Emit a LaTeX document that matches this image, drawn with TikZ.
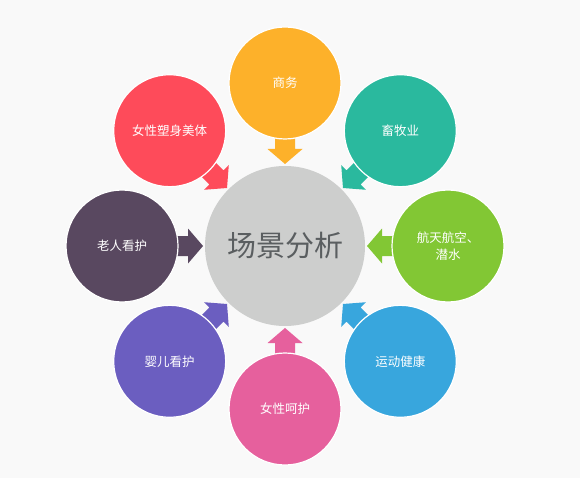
\documentclass[tikz,border=0pt]{standalone}
\usepackage{fontspec}
\newfontfamily\cjk{Noto Sans CJK SC}
\usetikzlibrary{calc}
\definecolor{bgc}{HTML}{F9F9F9}
\definecolor{hubgray}{HTML}{CDCECD}
\definecolor{hubtext}{HTML}{5A5E60}
\definecolor{corange}{HTML}{FDB12A}
\definecolor{cred}{HTML}{FE4B5A}
\definecolor{cteal}{HTML}{2AB99E}
\definecolor{cgreen}{HTML}{82C734}
\definecolor{cblue}{HTML}{38A6DD}
\definecolor{cpink}{HTML}{E6609D}
\definecolor{cpurple}{HTML}{6B5EC0}
\definecolor{cplum}{HTML}{594860}
\pgfdeclarelayer{back}
\pgfdeclarelayer{arrows}
\pgfsetlayers{back,arrows,main}
\tikzset{
  hub/.style={circle, fill=hubgray, minimum size=160pt, inner sep=0pt,
    text=hubtext, font=\cjk\fontsize{29}{32}\selectfont},
  topic/.style={circle, fill=#1, draw=white, line width=1.2pt,
    minimum size=112pt, inner sep=0pt, text=white, align=center,
    font=\cjk\fontsize{12.5}{17}\selectfont},
}
\newcommand\inarrow[2]{%
  \fill[#2] ($(hub)!82pt!(#1)$)
    -- ($(hub)!97pt!(#1)!17.5pt!90:(hub)$)
    -- ($(hub)!97pt!(#1)!10pt!90:(hub)$)
    -- ($(hub)!112pt!(#1)!10pt!90:(hub)$)
    -- ($(hub)!112pt!(#1)!10pt!-90:(hub)$)
    -- ($(hub)!97pt!(#1)!10pt!-90:(hub)$)
    -- ($(hub)!97pt!(#1)!17.5pt!-90:(hub)$)
    -- cycle;}
\begin{document}
\begin{tikzpicture}[x=1pt,y=-1pt]
\begin{pgfonlayer}{back}
  \fill[bgc] (0,0) rectangle (580,478);
\end{pgfonlayer}
\useasboundingbox (0,0) rectangle (580,478);
\node[hub] (hub) at (285,246) {场景分析};
\node[topic=corange] (shangwu) at (285,83) {商务};
\node[topic=cteal] (xumu) at (400.3,130.7) {畜牧业};
\node[topic=cgreen] (hangtian) at (448,246) {航天航空、\\潜水};
\node[topic=cblue] (yundong) at (400.3,361.3) {运动健康};
\node[topic=cpink] (nvxing) at (285,409) {女性呵护};
\node[topic=cpurple] (yinger) at (169.7,361.3) {婴儿看护};
\node[topic=cplum] (laoren) at (122,246) {老人看护};
\node[topic=cred] (suti) at (169.7,130.7) {女性塑身美体};
\begin{pgfonlayer}{arrows}
  \inarrow{shangwu}{corange}
  \inarrow{xumu}{cteal}
  \inarrow{hangtian}{cgreen}
  \inarrow{yundong}{cblue}
  \inarrow{nvxing}{cpink}
  \inarrow{yinger}{cpurple}
  \inarrow{laoren}{cplum}
  \inarrow{suti}{cred}
\end{pgfonlayer}
\end{tikzpicture}
\end{document}
